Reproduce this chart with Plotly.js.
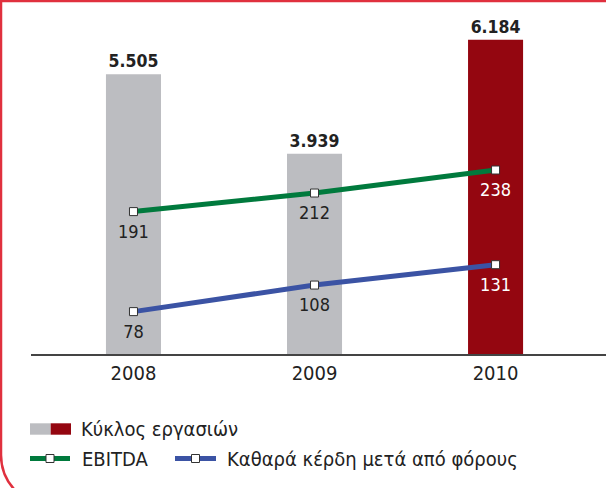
<!DOCTYPE html>
<html>
<head>
<meta charset="utf-8">
<script src="https://cdn.plot.ly/plotly-3.0.1.min.js"></script>
<style>html,body{margin:0;padding:0;background:#fff}#chart{width:606px;height:488px}</style>
</head>
<body>
<div id="chart"></div>
<script>
const years = ['2008', '2009', '2010'];
const revenue = [5505, 3939, 6184];
const ebitda = [191, 212, 238];
const netProfit = [78, 108, 131];
const barColors = ['#bcbdc1', '#bcbdc1', '#940610'];
const labelColors = ['#222', '#222', '#fff'];
const legendRevenue = 'Κύκλος εργασιών';
const legendEbitda = 'EBITDA';
const legendNet = 'Καθαρά κέρδη μετά από φόρους';

const FONT = '"DejaVu Sans Condensed", "DejaVu Sans", sans-serif';
const ML = 31, MR = 0, MT = 10, MB = 134, W = 606, H = 488;
const PW = W - ML - MR, PH = H - MT - MB;
const px = x => (x - ML) / PW;
const py = y => (H - MB - y) / PH;

const markerStyle = {symbol: 'square', size: 8, color: '#fff', line: {color: '#333', width: 1}};

function labelTrace(series) {
  return {
    type: 'scatter', mode: 'markers+text', x: years, y: series, yaxis: 'y2',
    marker: {size: 19, opacity: 0},
    text: series.map(String), textposition: 'bottom center',
    textfont: {family: FONT, size: 18, color: labelColors},
    cliponaxis: false, showlegend: false, hoverinfo: 'skip'
  };
}

const traces = [
  {
    type: 'bar', x: years, y: revenue, width: 0.304,
    marker: {color: barColors},
    texttemplate: '%{y:,}', textposition: 'outside', cliponaxis: false,
    textfont: {family: FONT, size: 17.5, color: '#222', weight: 'bold'},
    hoverinfo: 'skip', showlegend: false
  },
  {
    type: 'scatter', mode: 'lines+markers', x: years, y: ebitda, yaxis: 'y2',
    line: {color: '#007a3d', width: 5}, marker: markerStyle,
    cliponaxis: false, showlegend: false
  },
  {
    type: 'scatter', mode: 'lines+markers', x: years, y: netProfit, yaxis: 'y2',
    line: {color: '#3b53a4', width: 5}, marker: markerStyle,
    cliponaxis: false, showlegend: false
  },
  labelTrace(ebitda),
  labelTrace(netProfit)
];

// frame path (pixel coords -> paper)
const frameLeft = `M ${px(1)},${py(-2)} L ${px(1)},${py(455)} C ${px(1)},${py(483.2)} ${px(23.8)},${py(506)} ${px(52)},${py(506)}`;

const shapes = [
  {type: 'line', xref: 'paper', yref: 'paper', x0: px(0), x1: px(606), y0: py(1), y1: py(1), line: {color: '#e0303e', width: 2.5}},
  {type: 'path', xref: 'paper', yref: 'paper', path: frameLeft, line: {color: '#e0303e', width: 2.5}},
  // legend icons
  {type: 'rect', xref: 'paper', yref: 'paper', x0: px(30), x1: px(50.7), y0: py(423.3), y1: py(434.7), fillcolor: barColors[0], line: {width: 0}},
  {type: 'rect', xref: 'paper', yref: 'paper', x0: px(50.7), x1: px(71), y0: py(423.3), y1: py(434.7), fillcolor: barColors[2], line: {width: 0}},
  {type: 'line', xref: 'paper', yref: 'paper', x0: px(30), x1: px(70), y0: py(458.5), y1: py(458.5), line: {color: '#007a3d', width: 5}},
  {type: 'rect', xref: 'paper', yref: 'paper', x0: px(46), x1: px(54), y0: py(454.5), y1: py(462.5), fillcolor: '#fff', line: {color: '#333', width: 1}},
  {type: 'line', xref: 'paper', yref: 'paper', x0: px(175), x1: px(216), y0: py(458.5), y1: py(458.5), line: {color: '#3b53a4', width: 5}},
  {type: 'rect', xref: 'paper', yref: 'paper', x0: px(191.5), x1: px(199.5), y0: py(454.5), y1: py(462.5), fillcolor: '#fff', line: {color: '#333', width: 1}}
];

const legFont = {family: FONT, size: 20, color: '#222'};
const annotations = [
  {xref: 'paper', yref: 'paper', x: px(79), y: py(429), xanchor: 'left', yanchor: 'middle', text: legendRevenue, showarrow: false, font: legFont},
  {xref: 'paper', yref: 'paper', x: px(80), y: py(459), xanchor: 'left', yanchor: 'middle', text: legendEbitda, showarrow: false, font: legFont},
  {xref: 'paper', yref: 'paper', x: px(225), y: py(459), xanchor: 'left', yanchor: 'middle', text: legendNet, showarrow: false, font: legFont}
];

const layout = {
  width: W, height: H,
  margin: {l: ML, r: MR, t: MT, b: MB, pad: 0},
  paper_bgcolor: '#fff', plot_bgcolor: '#fff',
  separators: ',.',
  showlegend: false,
  xaxis: {
    type: 'category', range: [-0.566, 2.61], fixedrange: true,
    showline: true, linecolor: '#444', linewidth: 1.5, ticks: '',
    showgrid: false, zeroline: false,
    tickfont: {family: FONT, size: 20, color: '#222'}
  },
  yaxis: {range: [0, 6770], visible: false, showgrid: false, zeroline: false},
  yaxis2: {range: [30.1, 418.8], overlaying: 'y', visible: false, showgrid: false, zeroline: false},
  shapes: shapes,
  annotations: annotations,
  font: {family: FONT}
};

Plotly.newPlot('chart', traces, layout, {displayModeBar: false, staticPlot: true});
</script>
</body>
</html>
